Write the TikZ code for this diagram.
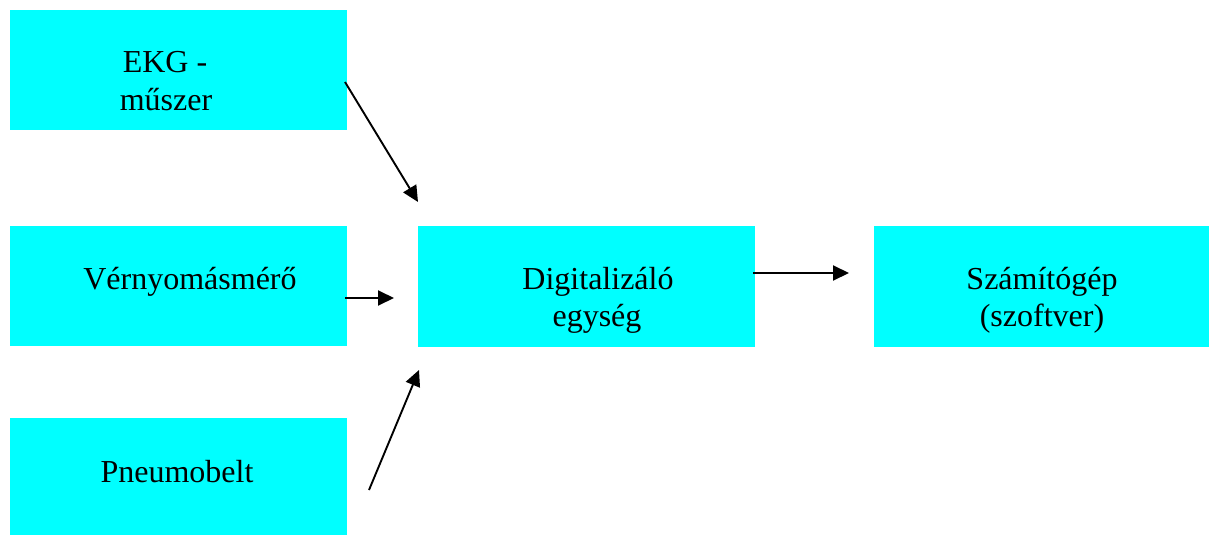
\documentclass[tikz,border=0pt]{standalone}
\usepackage{fontspec}
\setmainfont{Liberation Serif}
\usetikzlibrary{arrows.meta}
\definecolor{boxcyan}{RGB}{0,255,255}
\begin{document}
\begin{tikzpicture}[x=1pt,y=-1pt,
  block/.style={fill=boxcyan,draw=none,inner sep=0pt,outer sep=0pt},
  lbl/.style={anchor=base,inner sep=0pt,font=\fontsize{32}{37}\selectfont},
  link/.style={line width=1.9pt,-{Triangle[length=16pt,width=15pt]}}]
\useasboundingbox (0,0) rectangle (1209,535);
% blocks
\path[block] (10,10) rectangle (347,130) node[midway] (ekg) {};
\path[block] (10,226) rectangle (347,346) node[midway] (ver) {};
\path[block] (10,418) rectangle (347,535) node[midway] (pneu) {};
\path[block] (418,226) rectangle (755,347) node[midway] (dig) {};
\path[block] (874,226) rectangle (1209,347) node[midway] (szam) {};
% labels
\node[lbl] (t1a) at (165,73) {EKG -};
\node[lbl] (t1b) at (166,110) {műszer};
\node[lbl] (t2) at (190,289) {Vérnyomásmérő};
\node[lbl] (t3) at (177,482) {Pneumobelt};
\node[lbl] (t4a) at (598,289) {Digitalizáló};
\node[lbl] (t4b) at (597,326) {egység};
\node[lbl] (t5a) at (1042,289) {Számítógép};
\node[lbl] (t5b) at (1042,326) {(szoftver)};
% arrow ends
\coordinate (s1) at (345,82);
\coordinate (e1) at (418,202);
\coordinate (s2) at (345,298);
\coordinate (e2) at (394,298);
\coordinate (s3) at (369,490);
\coordinate (e3) at (419,370);
\coordinate (s4) at (753,273);
\coordinate (e4) at (849,273);
\draw[link] (s1) -- (e1);
\draw[link] (s2) -- (e2);
\draw[link] (s3) -- (e3);
\draw[link] (s4) -- (e4);
\end{tikzpicture}
\end{document}
